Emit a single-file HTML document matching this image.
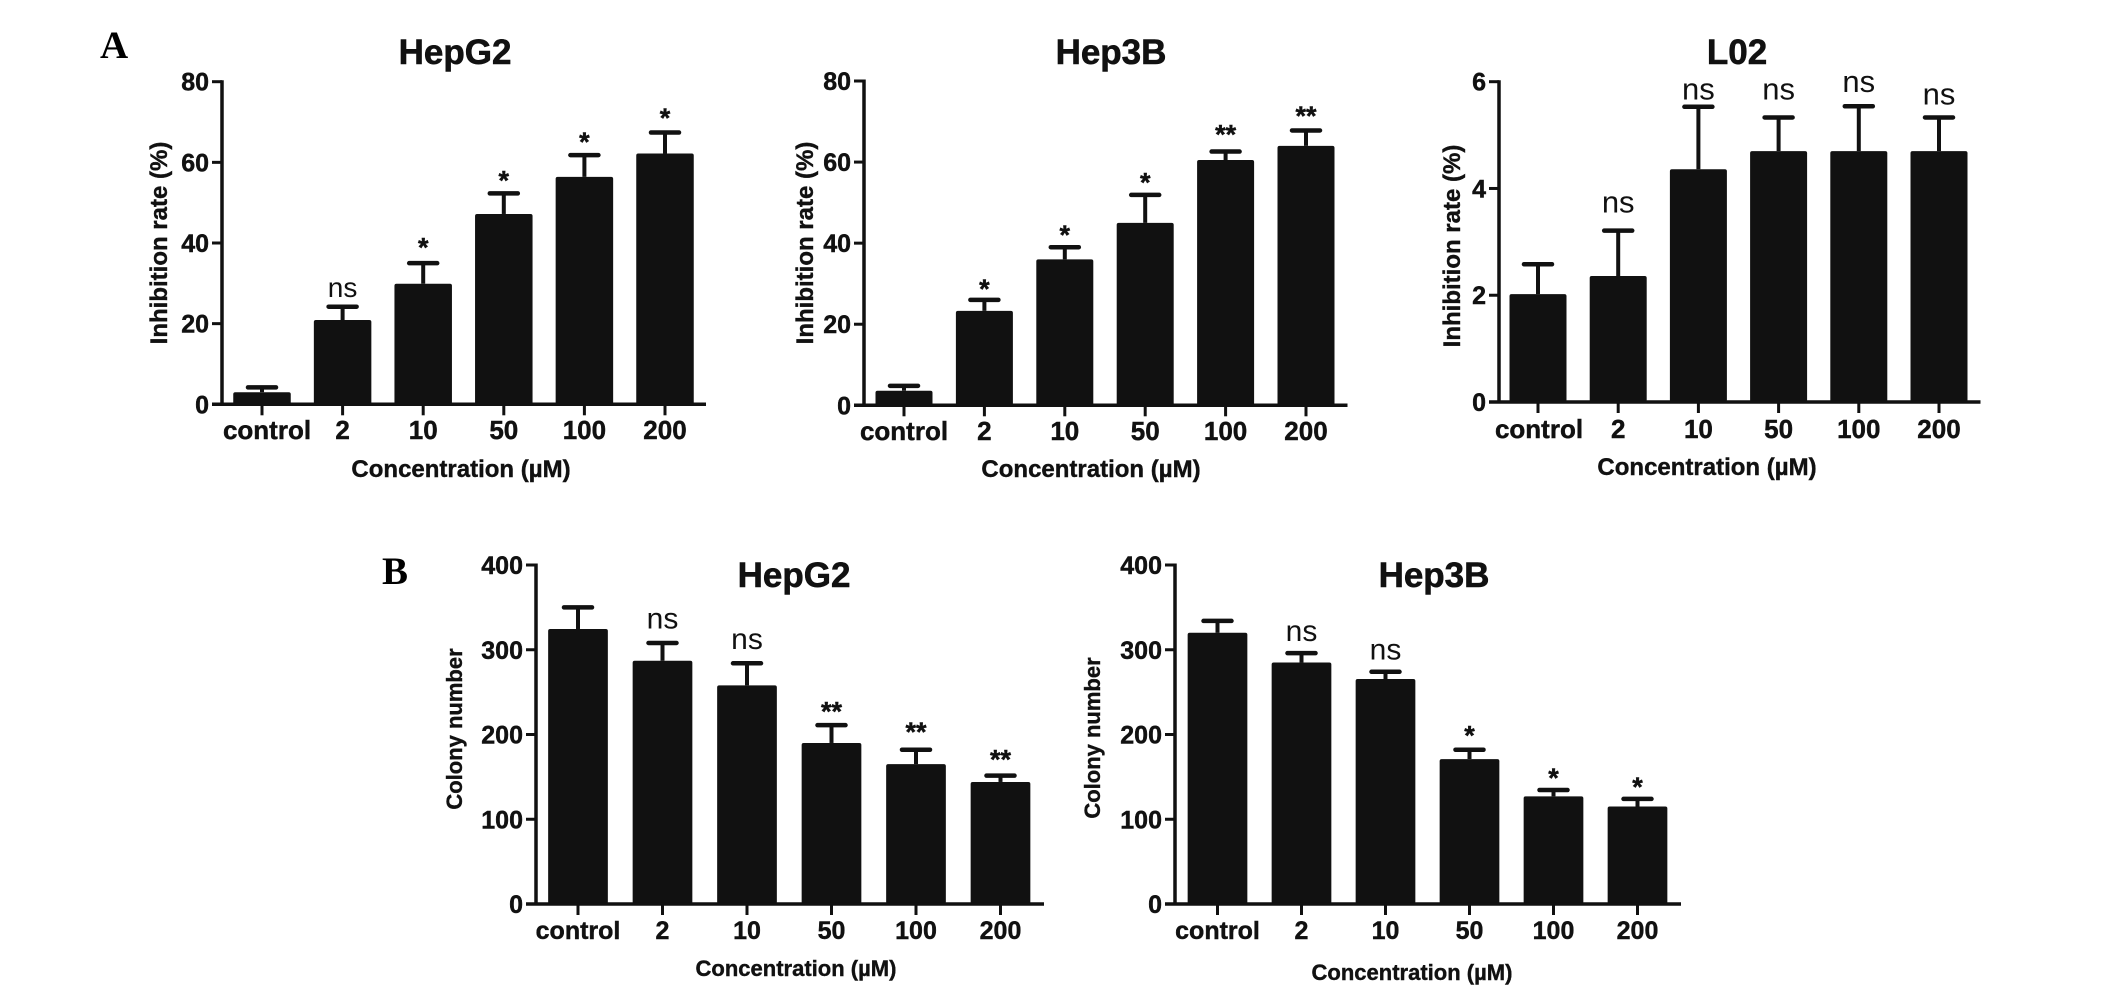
<!DOCTYPE html>
<html lang="en">
<head>
<meta charset="utf-8">
<title>Inhibition rate and colony number bar charts</title>
<style>
html,body{margin:0;padding:0;background:#fff;width:2126px;height:987px;overflow:hidden}
svg{display:block}
text{font-family:"Liberation Sans",sans-serif;fill:#111}
.b{font-weight:700;stroke:#111;stroke-width:.45px}
.panel{font-family:"Liberation Serif",serif;font-weight:700;font-size:39px;fill:#000}
.title{font-weight:700;font-size:35px;text-anchor:middle;stroke:#111;stroke-width:.6px}
.axt{font-weight:700;text-anchor:middle;stroke:#111;stroke-width:.4px}
</style>
</head>
<body>
<svg id="fig" xmlns="http://www.w3.org/2000/svg" width="2126" height="987" viewBox="0 0 2126 987">
  <rect x="0" y="0" width="2126" height="987" fill="#fff"/>
  <text class="panel" x="100" y="58">A</text>
  <text class="panel" x="382" y="584">B</text>

  <text class="title" x="455" y="64">HepG2</text>
  <text class="title" x="1111" y="64">Hep3B</text>
  <text class="title" x="1737" y="64">L02</text>
  <text class="title" x="794" y="587">HepG2</text>
  <text class="title" x="1434" y="587">Hep3B</text>

  <text class="axt" font-size="24" transform="translate(167,243) rotate(-90)">Inhibition rate (%)</text>
  <text class="axt" font-size="24" transform="translate(813,243) rotate(-90)">Inhibition rate (%)</text>
  <text class="axt" font-size="24" transform="translate(1460,246) rotate(-90)">Inhibition rate (%)</text>
  <text class="axt" font-size="22" transform="translate(462,729) rotate(-90)">Colony number</text>
  <text class="axt" font-size="22" transform="translate(1100,738) rotate(-90)">Colony number</text>

  <text class="axt" font-size="24" x="461" y="477">Concentration (µM)</text>
  <text class="axt" font-size="24" x="1091" y="477">Concentration (µM)</text>
  <text class="axt" font-size="24" x="1707" y="475">Concentration (µM)</text>
  <text class="axt" font-size="22" x="796" y="976">Concentration (µM)</text>
  <text class="axt" font-size="22" x="1412" y="980">Concentration (µM)</text>
</svg>
<script>
// Shared category labels
const categories = ['control', '2', '10', '50', '100', '200'];

// Panel A, HepG2
const aHepG2Values = [3, 20.9, 29.9, 47.2, 56.4, 62.2];
const aHepG2ErrorTops = [4.2, 24.2, 35, 52.3, 61.8, 67.4];
const aHepG2Sig = ['', 'ns', '*', '*', '*', '*'];
const aHepG2SigLift = [0, 4.5, 4.7, 4.1, 4.1, 4.4];
const aHepG2Ticks = [0, 20, 40, 60, 80];

// Panel A, Hep3B
const aHep3BValues = [3.6, 23.3, 36, 45, 60.5, 64];
const aHep3BErrorTops = [4.8, 26, 39, 51.9, 62.6, 67.8];
const aHep3BSig = ['', '*', '*', '*', '**', '**'];
const aHep3BSigLift = [0, 3.5, 3.9, 3.9, 5.1, 4.4];
const aHep3BTicks = [0, 20, 40, 60, 80];

// Panel A, L02
const aL02Values = [2.02, 2.36, 4.36, 4.7, 4.7, 4.7];
const aL02ErrorTops = [2.58, 3.21, 5.53, 5.33, 5.54, 5.33];
const aL02Sig = ['', 'ns', 'ns', 'ns', 'ns', 'ns'];
const aL02SigLift = [0, 0.51, 0.31, 0.51, 0.44, 0.42];
const aL02Ticks = [0, 2, 4, 6];

// Panel B, HepG2
const bHepG2Values = [324.5, 287, 258, 190, 165, 144];
const bHepG2ErrorTops = [350, 308, 284, 211, 182, 151.5];
const bHepG2Sig = ['', 'ns', 'ns', '**', '**', '**'];
const bHepG2SigLift = [0, 27.5, 27.5, 20, 25, 23];
const bHepG2Ticks = [0, 100, 200, 300, 400];

// Panel B, Hep3B
const bHep3BValues = [320, 285, 265.5, 171, 127, 115];
const bHep3BErrorTops = [334, 296, 274, 182, 134.5, 124];
const bHep3BSig = ['', 'ns', 'ns', '*', '*', '*'];
const bHep3BSigLift = [0, 25, 25, 21, 18, 18];
const bHep3BTicks = [0, 100, 200, 300, 400];

const NS = 'http://www.w3.org/2000/svg';
const fig = document.getElementById('fig');

function node(parent, tag, attrs) {
  const el = document.createElementNS(NS, tag);
  for (const k in attrs) el.setAttribute(k, attrs[k]);
  parent.appendChild(el);
  return el;
}

function drawChart(id, frame, values, errorTops, sig, sigLift, ticks) {
  const yMax = ticks[ticks.length - 1];
  const xPos = i => frame.first + frame.step * i;
  const yPos = v => frame.base - (v / yMax) * (frame.base - frame.top);

  const g = node(fig, 'g', {});
  
  

  values.forEach((v, i) => {
    const x = xPos(i);
    const stem = node(g, 'line', {x1: x, x2: x, y1: yPos(v), y2: yPos(errorTops[i]), stroke: '#111', 'stroke-width': 4});
    
    
    const cap = node(g, 'line', {x1: x - 14, x2: x + 14, y1: yPos(errorTops[i]), y2: yPos(errorTops[i]), stroke: '#111', 'stroke-width': 4.5, 'stroke-linecap': 'round'});
    
    
    const bar = node(g, 'rect', {x: x - frame.barW / 2, y: yPos(v), width: frame.barW, height: frame.base - yPos(v), rx: 2, fill: '#111'});
    
    

    const tick = node(g, 'line', {x1: x, x2: x, y1: frame.base, y2: frame.base + 11, stroke: '#111', 'stroke-width': 3});
    
    
    const lab = node(g, 'text', {x: x + (i === 0 ? frame.ctrlShift : 0), y: frame.labelY, 'text-anchor': 'middle', 'font-size': frame.xFont, class: 'b'});
    lab.textContent = categories[i];
    
    

    if (sig[i]) {
      const cy = yPos(errorTops[i] + sigLift[i]);
      const isNs = sig[i] === 'ns';
      const size = isNs ? frame.nsFont : 27;
      const s = node(g, 'text', {x: x, y: cy + (isNs ? 0.3 : 0.46) * size, 'text-anchor': 'middle', 'font-size': size, class: isNs ? '' : 'b'});
      s.textContent = sig[i];
      
      
    }
  });

  ticks.forEach(t => {
    const tk = node(g, 'line', {x1: frame.left - 10, x2: frame.left, y1: yPos(t), y2: yPos(t), stroke: '#111', 'stroke-width': 3});
    
    
    const lb = node(g, 'text', {x: frame.left - 13, y: yPos(t) + 9, 'text-anchor': 'end', 'font-size': frame.yFont, class: 'b'});
    lb.textContent = t;
    
    
  });

  const yAxis = node(g, 'line', {x1: frame.left, x2: frame.left, y1: frame.top - 1.5, y2: frame.base, stroke: '#111', 'stroke-width': 3.5});
  
  
  const xAxis = node(g, 'line', {x1: frame.left - 10, x2: frame.right, y1: frame.base, y2: frame.base, stroke: '#111', 'stroke-width': 3.5});
  
  
}

drawChart('a-hepg2', {left: 222, right: 706, top: 81.7, base: 404.3, first: 262, step: 80.6, barW: 57.5, labelY: 439, xFont: 26, yFont: 25, nsFont: 28, ctrlShift: 5}, aHepG2Values, aHepG2ErrorTops, aHepG2Sig, aHepG2SigLift, aHepG2Ticks);
drawChart('a-hep3b', {left: 864, right: 1347.5, top: 81, base: 405.3, first: 904, step: 80.4, barW: 57, labelY: 440, xFont: 26, yFont: 25, nsFont: 28, ctrlShift: 0}, aHep3BValues, aHep3BErrorTops, aHep3BSig, aHep3BSigLift, aHep3BTicks);
drawChart('a-l02', {left: 1499, right: 1980.5, top: 81.7, base: 402, first: 1538, step: 80.2, barW: 57, labelY: 438, xFont: 26, yFont: 25, nsFont: 31, ctrlShift: 1}, aL02Values, aL02ErrorTops, aL02Sig, aL02SigLift, aL02Ticks);
drawChart('b-hepg2', {left: 536, right: 1044, top: 565, base: 904, first: 578, step: 84.5, barW: 59.7, labelY: 939, xFont: 25, yFont: 25, nsFont: 30, ctrlShift: 0}, bHepG2Values, bHepG2ErrorTops, bHepG2Sig, bHepG2SigLift, bHepG2Ticks);
drawChart('b-hep3b', {left: 1175, right: 1681, top: 565, base: 904, first: 1217.5, step: 84, barW: 59.7, labelY: 939, xFont: 25, yFont: 25, nsFont: 30, ctrlShift: 0}, bHep3BValues, bHep3BErrorTops, bHep3BSig, bHep3BSigLift, bHep3BTicks);
</script>
</body>
</html>
